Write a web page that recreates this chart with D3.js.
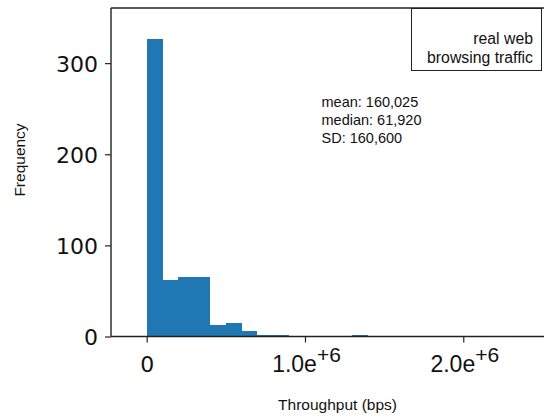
<!DOCTYPE html>
<html>
<head>
<meta charset="utf-8">
<script src="https://cdn.jsdelivr.net/npm/d3@7"></script>
<style>
  body { margin: 0; background: #fff; }
  svg { display: block; }
</style>
</head>
<body>
<div id="chart"></div>
<script>
// histogram of throughput, bin width 100,000 bps starting at 0
var binStart = 0;
var binWidth = 100000;
var counts = [326, 62, 65, 65, 13, 15, 6, 1, 1, 0, 0, 0, 0, 1];

var yTicks = [0, 100, 200, 300];
var xTicks = [0, 1000000, 2000000];
var xTickBase = ['0', '1.0e', '2.0e'];
var xTickExp = ['', '+6', '+6'];

var statLines = ['mean: 160,025', 'median: 61,920', 'SD: 160,600'];
var legendLines = ['real web', 'browsing traffic'];

var W = 544, H = 417;
var sans = '"Liberation Sans", Arial, Helvetica, sans-serif';
var dejavu = '"DejaVu Sans", sans-serif';

var x = d3.scaleLinear().domain([-225500, 2630000]).range([111, 563]);
var y = d3.scaleLinear().domain([0, 360.5]).range([336.5, 8]);

var bins = counts.map(function (c, i) {
  return {x0: binStart + i * binWidth, x1: binStart + (i + 1) * binWidth, n: c};
});

var svg = d3.select('#chart').append('svg')
    .attr('width', W)
    .attr('height', H);

// Bars, crisp so neighbouring bars show no seam;
// tiny bins get 2px so they peek above the bottom spine
svg.append('g')
  .attr('shape-rendering', 'crispEdges')
  .selectAll('rect')
  .data(bins.filter(function (d) { return d.n > 0; }))
  .enter().append('rect')
  .attr('x', function (d) { return x(d.x0); })
  .attr('y', function (d) { return Math.min(y(d.n), y(0) - 2); })
  .attr('width', function (d) { return x(d.x1) - x(d.x0); })
  .attr('height', function (d) { return Math.max(2, y(0) - y(d.n)); })
  .attr('fill', '#1f77b4');

// Y axis
var yAxis = d3.axisLeft(y).tickValues(yTicks).tickSize(6).tickPadding(7);
var gy = svg.append('g')
  .attr('transform', 'translate(' + x.range()[0] + ',0)')
  .call(yAxis);
gy.select('.domain').remove();
gy.selectAll('line').attr('stroke', '#222').attr('stroke-width', 1.2);
gy.selectAll('text')
  .style('font-family', dejavu)
  .style('font-size', '22px')
  .attr('fill', '#111')
  .attr('dy', '0.36em');

// X axis
var xAxis = d3.axisBottom(x).tickValues(xTicks).tickSize(6).tickFormat('');
var gx = svg.append('g')
  .attr('transform', 'translate(0,' + y(0) + ')')
  .call(xAxis);
gx.select('.domain').remove();
gx.selectAll('line').attr('stroke', '#222').attr('stroke-width', 1.2);
gx.selectAll('.tick').each(function (d, i) {
  var t = d3.select(this).append('text')
    .attr('fill', '#111')
    .attr('y', 35.5)
    .attr('text-anchor', 'middle');
  if (i === 0) {
    t.style('font-family', dejavu).style('font-size', '22px').text(xTickBase[i]);
  } else {
    t.attr('x', 1).style('font-family', sans).style('font-size', '23px');
    t.append('tspan').text(xTickBase[i]);
    t.append('tspan').attr('dy', -10).style('font-size', '21px').text(xTickExp[i]);
  }
});

// Spines
var frame = svg.append('g').attr('fill', 'none').attr('stroke', '#222').attr('stroke-width', 1.4);
frame.append('line').attr('x1', x.range()[0]).attr('x2', x.range()[0]).attr('y1', y.range()[1]).attr('y2', y(0));
frame.append('line').attr('x1', x.range()[0]).attr('x2', x.range()[1]).attr('y1', y.range()[1]).attr('y2', y.range()[1]);
frame.append('line').attr('x1', x.range()[0]).attr('x2', x.range()[1]).attr('y1', y(0)).attr('y2', y(0));

// Stats text
svg.append('g')
  .selectAll('text')
  .data(statLines)
  .enter().append('text')
  .attr('x', 321.5)
  .attr('y', function (d, i) { return 106.5 + i * 18.3; })
  .style('font-family', sans)
  .style('font-size', '14.5px')
  .attr('fill', '#111')
  .text(function (d) { return d; });

// Legend box
svg.append('rect')
  .attr('x', 411.5)
  .attr('y', 8.5)
  .attr('width', 130)
  .attr('height', 62)
  .attr('fill', '#fff')
  .attr('stroke', '#222')
  .attr('stroke-width', 1);
svg.append('g')
  .selectAll('text')
  .data(legendLines)
  .enter().append('text')
  .attr('x', 533)
  .attr('y', function (d, i) { return 43.5 + i * 19; })
  .attr('text-anchor', 'end')
  .style('font-family', sans)
  .style('font-size', '15.8px')
  .attr('fill', '#111')
  .text(function (d) { return d; });

// Axis labels
svg.append('text')
  .attr('x', 337.5)
  .attr('y', 410)
  .attr('text-anchor', 'middle')
  .style('font-family', sans)
  .style('font-size', '15.5px')
  .attr('fill', '#111')
  .text('Throughput (bps)');
svg.append('text')
  .attr('transform', 'translate(24.5,160) rotate(-90)')
  .attr('text-anchor', 'middle')
  .style('font-family', sans)
  .style('font-size', '15.5px')
  .attr('fill', '#111')
  .text('Frequency');
</script>
</body>
</html>
